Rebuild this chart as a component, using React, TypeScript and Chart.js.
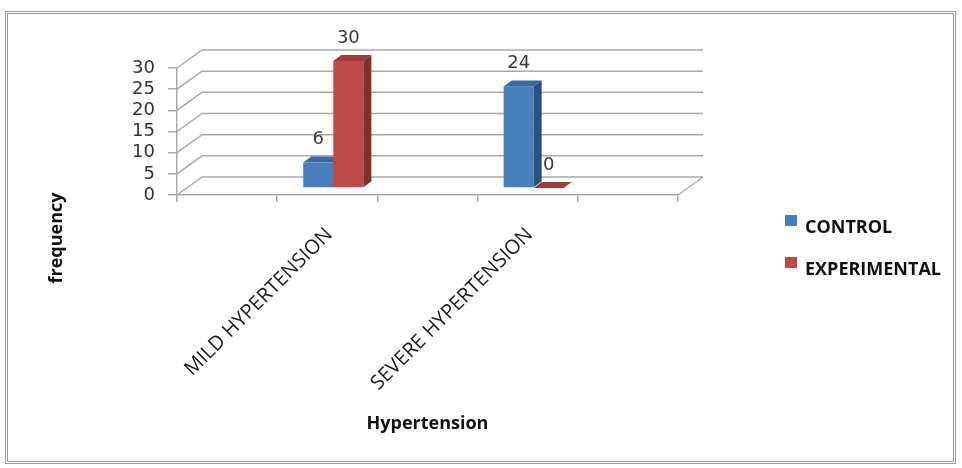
import React, { useEffect, useRef } from "react";
import { Chart, registerables } from "chart.js";

Chart.register(...registerables);

// ---- data ----
const CATEGORIES = ["", "MILD HYPERTENSION", "", "SEVERE HYPERTENSION", ""];
const CONTROL_VALUES: (number | null)[] = [null, 6, null, 24, null];
const EXPERIMENTAL_VALUES: (number | null)[] = [null, 30, null, 0, null];
const SERIES_NAMES = ["CONTROL", "EXPERIMENTAL"];
const Y_MIN = 0;
const Y_MAX = 30;
const Y_STEP = 5;
const X_TITLE = "Hypertension";
const Y_TITLE = "frequency";

// ---- styles ----
const FACES = [
  { front: "#4a7ebb", top: "#3c69a4", side: "#2e5081" },
  { front: "#be4b48", top: "#a33b38", side: "#80302d" },
];
const GRID = "#a9a9a9";
const WALL = { dx: 25, dy: -18 };
const BAR_FRONT = { dx: 6, dy: -7 };
const BAR_DEPTH = { dx: 8, dy: -6 };
const NUM_FONT = "DejaVu Sans";
const TXT_FONT = "'Open Sans', sans-serif";

const excel3d = {
  id: "excel3d",
  beforeDatasetsDraw(chart: any) {
    const { ctx, chartArea: a, scales } = chart;
    const ys = scales.y;
    ctx.save();
    // back wall + side wall gridlines
    ctx.strokeStyle = GRID;
    ctx.lineWidth = 1.5;
    ys.ticks.forEach((t: any) => {
      const py = ys.getPixelForValue(t.value);
      ctx.beginPath();
      ctx.moveTo(a.left, py);
      ctx.lineTo(a.left + WALL.dx, py + WALL.dy);
      ctx.lineTo(a.right + WALL.dx, py + WALL.dy);
      ctx.stroke();
    });
    ctx.beginPath();
    ctx.moveTo(a.right, a.bottom);
    ctx.lineTo(a.right + WALL.dx, a.bottom + WALL.dy);
    ctx.stroke();

    const labels: { x: number; y: number; text: string }[] = [];
    const n = chart.data.labels.length;
    for (let i = 0; i < n; i++) {
      chart.data.datasets.forEach((ds: any, di: number) => {
        const v = ds.data[i];
        if (v == null) return;
        const el = chart.getDatasetMeta(di).data[i];
        const { x, y, base, width } = el.getProps(["x", "y", "base", "width"], true);
        const l = x - width / 2 + BAR_FRONT.dx;
        const r = x + width / 2 + BAR_FRONT.dx;
        const t = y + BAR_FRONT.dy;
        const b = base + BAR_FRONT.dy;
        const c = FACES[di];
        ctx.fillStyle = c.front;
        ctx.fillRect(l, t, r - l, b - t);
        ctx.fillStyle = c.top;
        ctx.beginPath();
        ctx.moveTo(l, t);
        ctx.lineTo(r, t);
        ctx.lineTo(r + BAR_DEPTH.dx, t + BAR_DEPTH.dy);
        ctx.lineTo(l + BAR_DEPTH.dx, t + BAR_DEPTH.dy);
        ctx.closePath();
        ctx.fill();
        ctx.fillStyle = c.side;
        ctx.beginPath();
        ctx.moveTo(r, t);
        ctx.lineTo(r + BAR_DEPTH.dx, t + BAR_DEPTH.dy);
        ctx.lineTo(r + BAR_DEPTH.dx, b + BAR_DEPTH.dy);
        ctx.lineTo(r, b);
        ctx.closePath();
        ctx.fill();
        labels.push({ x: (l + r) / 2, y: t - 23, text: String(v) });
      });
    }
    ctx.fillStyle = "#3a3a3a";
    ctx.font = `18px ${NUM_FONT}`;
    ctx.textAlign = "center";
    ctx.textBaseline = "middle";
    labels.forEach((lb) => ctx.fillText(lb.text, lb.x, lb.y));
    ctx.restore();
    return false;
  },
  afterDraw(chart: any) {
    const { ctx } = chart;
    ctx.save();
    // legend
    chart.data.datasets.forEach((ds: any, i: number) => {
      const top = 215 + i * 42;
      ctx.fillStyle = FACES[i].front;
      ctx.fillRect(785, top, 12, 11);
      ctx.fillStyle = "#111";
      ctx.font = `bold 18px ${TXT_FONT}`;
      ctx.textAlign = "left";
      ctx.textBaseline = "alphabetic";
      ctx.fillText(ds.label, 805, top + 18);
    });
    // y title
    ctx.translate(57, 238);
    ctx.rotate(-Math.PI / 2);
    ctx.fillStyle = "#111";
    ctx.font = `bold 18px ${TXT_FONT}`;
    ctx.textAlign = "center";
    ctx.textBaseline = "middle";
    ctx.fillText(Y_TITLE, 0, 0);
    ctx.restore();
  },
};

export default function App() {
  const ref = useRef<HTMLCanvasElement | null>(null);
  useEffect(() => {
    if (!ref.current) return;
    const chart = new Chart(ref.current, {
      type: "bar",
      data: {
        labels: CATEGORIES,
        datasets: [
          { label: SERIES_NAMES[0], data: CONTROL_VALUES, backgroundColor: FACES[0].front },
          { label: SERIES_NAMES[1], data: EXPERIMENTAL_VALUES, backgroundColor: FACES[1].front },
        ],
      },
      options: {
        responsive: false,
        animation: false,
        devicePixelRatio: 1,
        layout: { padding: { left: 0, top: 68, right: 284, bottom: 0 } },
        datasets: { bar: { categoryPercentage: 0.6, barPercentage: 1 } },
        plugins: { legend: { display: false }, tooltip: { enabled: false } },
        scales: {
          x: {
            afterFit: (s: any) => { s.height = 273; },
            grid: { drawOnChartArea: false, tickLength: 7, color: GRID, lineWidth: 1.5, offset: true },
            border: { display: true, color: GRID, width: 1.5 },
            ticks: {
              autoSkip: false,
              minRotation: 45,
              maxRotation: 45,
              padding: 21,
              labelOffset: 2,
              color: "#1a1a1a",
              font: { family: TXT_FONT, size: 20 },
            },
            title: {
              display: true,
              text: X_TITLE,
              color: "#111",
              font: { family: TXT_FONT, size: 18, weight: "bold" },
              padding: { top: 0, bottom: 33 },
            },
          },
          y: {
            min: Y_MIN,
            max: Y_MAX,
            afterFit: (s: any) => { s.width = 177; },
            grid: { drawOnChartArea: false, tickLength: 9, color: GRID, lineWidth: 1.5 },
            border: { display: true, color: GRID, width: 1.5 },
            ticks: {
              stepSize: Y_STEP,
              autoSkip: false,
              padding: 13,
              color: "#333",
              font: { family: NUM_FONT, size: 18 },
            },
          },
        },
      },
      plugins: [excel3d],
    });
    return () => chart.destroy();
  }, []);

  return (
    <div style={{ position: "fixed", left: 0, top: 0, width: 962, height: 468, background: "#fff" }}>
      <div
        style={{
          position: "absolute",
          left: 5,
          top: 11,
          width: 951,
          height: 453,
          border: "3px double #9c9c9c",
          boxSizing: "border-box",
        }}
      />
      <canvas ref={ref} width={962} height={468} style={{ position: "absolute", left: 0, top: 0 }} />
    </div>
  );
}
